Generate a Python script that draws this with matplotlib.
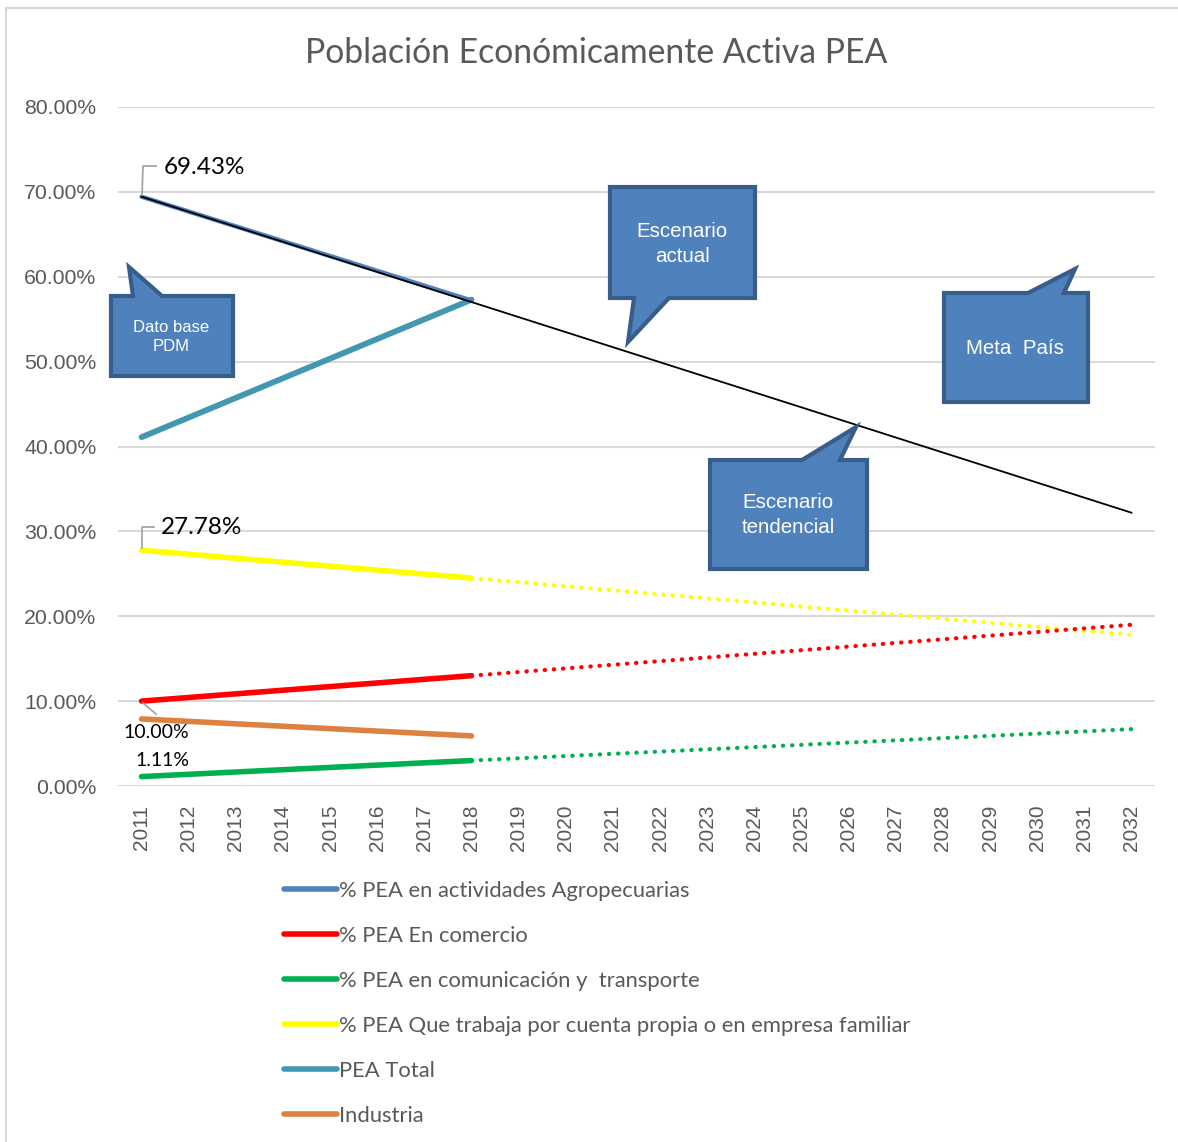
import matplotlib
matplotlib.use("Agg")
import matplotlib.pyplot as plt
from matplotlib.patches import Polygon
from matplotlib.lines import Line2D
from matplotlib.transforms import Affine2D

# ---------------- data ----------------
years = list(range(2011, 2033))
hist_years = [2011, 2018]
proj_years = [2018, 2032]

agro_hist = [69.43, 57.2]
agro_trend_years = [2011, 2032]
agro_trend = [69.43, 32.2]

comercio_hist = [10.00, 13.0]
comercio_proj = [13.0, 19.0]

comunic_hist = [1.11, 3.0]
comunic_proj = [3.0, 6.7]

propia_hist = [27.78, 24.5]
propia_proj = [24.5, 17.8]

pea_total = [41.1, 57.3]
industria = [7.9, 5.9]

legend_labels = [
    "% PEA en actividades Agropecuarias",
    "% PEA En comercio",
    "% PEA en comunicación y  transporte",
    "% PEA Que trabaja por cuenta propia o en empresa familiar",
    "PEA Total",
    "Industria",
]
yticks = [0, 10, 20, 30, 40, 50, 60, 70, 80]
title = "Población Económicamente Activa PEA"

callout_texts = ["Dato base\nPDM", "Escenario\nactual", "Meta  País", "Escenario\ntendencial"]

# ---------------- style ----------------
W, H = 1178, 1142
C_AGRO = "#4F81BD"
C_COM = "#FF0000"
C_TRA = "#00B050"
C_PRO = "#FFFF00"
C_TOT = "#4198B0"
C_IND = "#DC8140"
GRID = "#D9D9D9"
TXT = "#595959"
LATO = ["Lato", "DejaVu Sans"]
ARIAL = ["Liberation Sans", "DejaVu Sans"]
NARROW = ["Liberation Sans", "DejaVu Sans"]

fig = plt.figure(figsize=(W / 100, H / 100), dpi=100)
fig.patch.set_facecolor("white")
px = Affine2D().scale(1, -1).translate(0, H)  # pixel coords (top-left origin)

# outer frame
fig.add_artist(Line2D([6, 6], [8, H], color=GRID, lw=1.5, transform=px))
fig.add_artist(Line2D([6, W], [8, 8], color=GRID, lw=1.5, transform=px))

ax = fig.add_axes([118 / W, 1 - 786 / H, (1155 - 118) / W, (786 - 107) / H])
idx = {y: i for i, y in enumerate(years)}
def X(ys):
    return [idx[y] for y in ys]

ax.set_xlim(-0.5, len(years) - 0.5)
ax.set_ylim(0, 80)
ax.set_yticks(yticks)
ax.set_yticklabels([f"{v:.2f}%" for v in yticks], fontsize=15.3, color=TXT, family=ARIAL)
ax.set_xticks(range(len(years)))
ax.set_xticklabels([str(y) for y in years], rotation=90, fontsize=15, color=TXT, family=ARIAL)
ax.tick_params(length=0)
ax.tick_params(axis="x", pad=13.5)
ax.tick_params(axis="y", pad=15.5)
for s in ax.spines.values():
    s.set_visible(False)
ax.grid(axis="y", color=GRID, lw=1.5)
ax.set_axisbelow(True)

dot = dict(linestyle=(0, (0.1, 2.1)), dash_capstyle="round", lw=3)
solid = dict(solid_capstyle="round", lw=4)

ax.plot(X(proj_years), propia_proj, color=C_PRO, **dot)
ax.plot(X(proj_years), comercio_proj, color=C_COM, **dot)
ax.plot(X(proj_years), comunic_proj, color=C_TRA, **dot)

ax.plot(X(hist_years), industria, color=C_IND, **solid)
ax.plot(X(hist_years), comunic_hist, color=C_TRA, **solid)
ax.plot(X(hist_years), comercio_hist, color=C_COM, **solid)
ax.plot(X(hist_years), propia_hist, color=C_PRO, **solid)
ax.plot(X(hist_years), pea_total, color=C_TOT, solid_capstyle="round", lw=4.2)
ax.plot(X(hist_years), agro_hist, color=C_AGRO, solid_capstyle="round", lw=3.2)
ax.plot(X(agro_trend_years), agro_trend, color="black", lw=1.3)

# data labels with leader lines (pixel coordinates)
LEAD = "#A6A6A6"
fig.add_artist(Line2D([142, 143, 156], [195, 166, 166], color=LEAD, lw=1.3, transform=px))
fig.text(164, 167, f"{agro_hist[0]:.2f}%", transform=px, fontsize=17.5, family=LATO,
         color="black", va="center", ha="left")
fig.add_artist(Line2D([142, 142, 154], [548, 527, 527], color=LEAD, lw=1.3, transform=px))
fig.text(161, 528, f"{propia_hist[0]:.2f}%", transform=px, fontsize=17.5, family=LATO,
         color="black", va="center", ha="left")
fig.add_artist(Line2D([143, 156], [703, 714], color=LEAD, lw=1.3, transform=px))
fig.text(156, 732, f"{comercio_hist[0]:.2f}%", transform=px, fontsize=14, family=LATO,
         color="black", va="center", ha="center")
fig.text(162, 760, f"{comunic_hist[0]:.2f}%", transform=px, fontsize=14, family=LATO,
         color="black", va="center", ha="center")

# callouts
FILL = "#4F81BD"
EDGE = "#385D8A"
shapes = [
    [(111, 296), (133, 296), (129, 267), (162, 296), (233, 296), (233, 376), (111, 376)],
    [(610, 187), (755, 187), (755, 298), (669, 298), (628, 342), (634, 298), (610, 298)],
    [(944, 293), (1028, 293), (1075, 269), (1064, 293), (1088, 293), (1088, 402), (944, 402)],
    [(710, 460), (802, 460), (856, 427), (840, 460), (867, 460), (867, 569), (710, 569)],
]
centers = [(171, 337), (682, 244), (1015, 348), (788, 515)]
sizes = [12, 14.8, 14.8, 14.8]
for pts, c, t, fs in zip(shapes, centers, callout_texts, sizes):
    fig.add_artist(Polygon(pts, closed=True, facecolor=FILL, edgecolor=EDGE, lw=3,
                           joinstyle="miter", transform=px))
    fig.text(c[0], c[1], t, transform=px, fontsize=fs, family=NARROW, color="white",
             ha="center", va="center", linespacing=1.4)

# title
fig.text(596, 53, title, transform=px, fontsize=24.3, family=LATO, color=TXT,
         ha="center", va="center")

# legend
handles = [Line2D([], [], color=c, lw=4, solid_capstyle="round")
           for c in [C_AGRO, C_COM, C_TRA, C_PRO, C_TOT, C_IND]]
leg = fig.legend(handles, legend_labels, loc="upper left",
                 bbox_to_anchor=(284 / W, 1 - 881 / H), frameon=False,
                 prop={"family": LATO, "size": 15.8}, labelcolor=TXT,
                 handlelength=2.42, handletextpad=0.1, labelspacing=1.135,
                 borderaxespad=0, borderpad=0)

fig.savefig("out.png", dpi=100, facecolor="white")
